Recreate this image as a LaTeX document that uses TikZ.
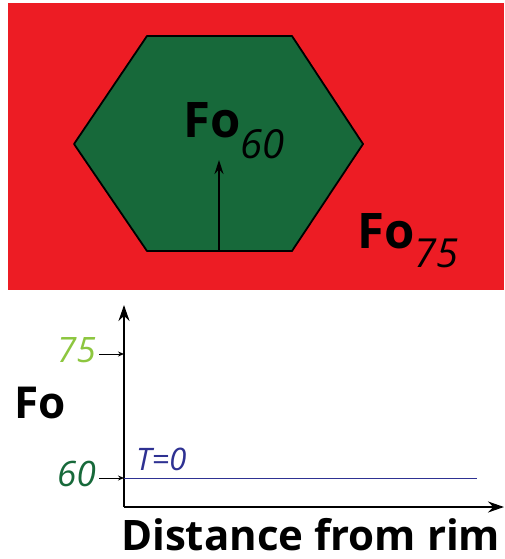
\documentclass[tikz,border=0pt]{standalone}
\usepackage{fontspec}
\setmainfont{Open Sans}
\usetikzlibrary{arrows.meta, positioning}
\definecolor{rimred}{HTML}{ED1C24}
\definecolor{coregreen}{HTML}{17693A}
\definecolor{highgreen}{HTML}{8DC63F}
\definecolor{lineblue}{HTML}{2E3192}

\begin{document}
\begin{tikzpicture}[
    x=1pt, y=-1pt,
    big/.style={font=\fontsize{49}{49}\selectfont\bfseries, inner sep=0pt},
    axis/.style={line width=2.4pt, -{Stealth[length=16pt, width=11pt]}},
    tick/.style={line width=1pt, -{Stealth[length=6pt, width=5pt]}},
    val/.style={font=\fontsize{35}{35}\selectfont\itshape, inner sep=0pt, anchor=east}
]
\useasboundingbox (0,0) rectangle (504,559);
% crystal in the melt
\fill[rimred] (8,3) rectangle (504,290);
\draw[fill=coregreen, line width=1.8pt, line join=round] (147,36) -- (292,36) -- (363,144) -- (292,251) -- (147,251) -- (74,144) -- cycle;
\coordinate (base) at (219,251);
\coordinate (tip) at (219,160);
\draw[line width=1.4pt, -{Stealth[length=14pt, width=9pt]}] (base) -- (tip);
\node[big, anchor=base west] (core) at (183,138) {Fo\textsubscript{\fontsize{40}{40}\selectfont\mdseries\itshape 60}};
\node[big, anchor=base west] (rim) at (357,248) {Fo\textsubscript{\fontsize{40}{40}\selectfont\mdseries\itshape 75}};
% profile
\coordinate (origin) at (124,507);
\coordinate (ytop) at (124,305);
\coordinate (xend) at (504,507);
\draw[axis] (origin) -- (ytop);
\draw[axis] (origin) -- (xend);
\coordinate (t75) at (124,354);
\coordinate (t60) at (124,478);
\node[val, text=highgreen] (l75) at (96,350) {75};
\node[val, text=coregreen] (l60) at (96,474) {60};
\draw[tick] (l75.east |- t75) ++(3,0) -- (t75);
\draw[tick] (l60.east |- t60) ++(3,0) -- (t60);
\coordinate (lineend) at (477,478);
\draw[lineblue, line width=1pt] (t60) -- (lineend);
\node[font=\fontsize{31}{31}\selectfont\itshape, text=lineblue, inner sep=0pt, anchor=base west] (t0) at (136,470) {T=0};
\node[font=\fontsize{44}{44}\selectfont\bfseries, inner sep=0pt, anchor=base west] (fo) at (14,418) {Fo};
\node[font=\fontsize{42}{42}\selectfont\bfseries, inner sep=0pt, anchor=base west] (dist) at (121,550) {Distance from rim};
\end{tikzpicture}
\end{document}
